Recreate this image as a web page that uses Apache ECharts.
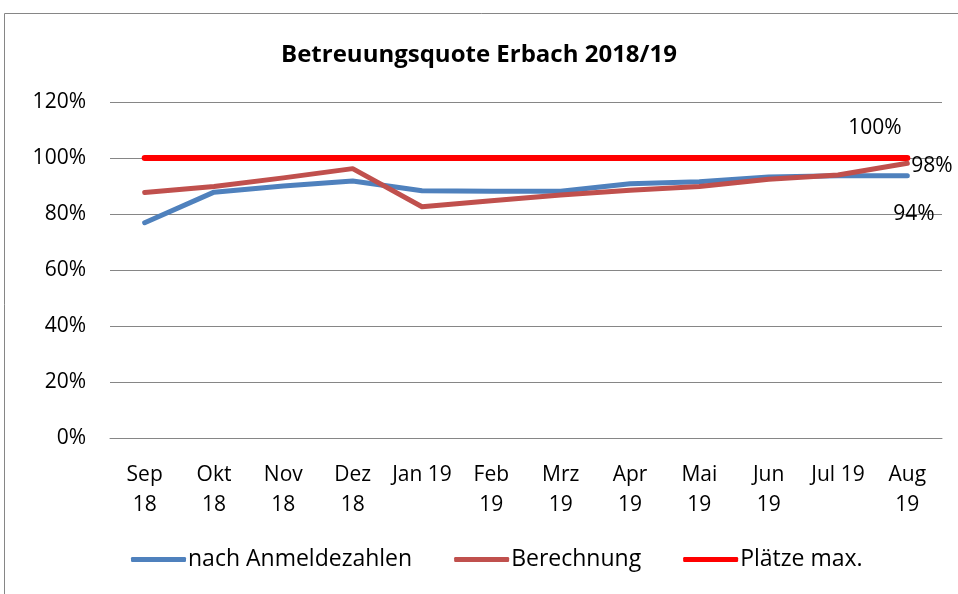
<!DOCTYPE html>
<html>
<head>
<meta charset="utf-8">
<script src="https://cdn.jsdelivr.net/npm/echarts@6/dist/echarts.min.js"></script>
<style>
  html, body { margin: 0; padding: 0; background: #fff; }
  #chart { width: 958px; height: 594px; }
</style>
</head>
<body>
<div id="chart"></div>
<script>
var categories = ['Sep\n18', 'Okt\n18', 'Nov\n18', 'Dez\n18', 'Jan 19', 'Feb\n19', 'Mrz\n19', 'Apr\n19', 'Mai\n19', 'Jun\n19', 'Jul 19', 'Aug\n19']
var anmeldezahlen = [76.9, 87.8, 90.0, 91.8, 88.3, 88.1, 88.1, 90.8, 91.5, 93.2, 93.7, 93.7]
var berechnung = [87.7, 89.8, 92.9, 96.2, 82.6, 84.7, 86.8, 88.5, 89.8, 92.4, 93.9, 98.1]
var plaetzeMax = [100, 100, 100, 100, 100, 100, 100, 100, 100, 100, 100, 100]
var yTicks = { min: 0, max: 120, interval: 20 }

var font = "'Open Sans', 'Noto Sans', sans-serif"

// Beschriftung nur am letzten Punkt
function endLbl(offset) {
  return {
    show: true,
    color: '#000',
    fontFamily: font,
    fontSize: 21,
    distance: 0,
    align: 'left',
    verticalAlign: 'middle',
    offset: offset,
    formatter: function(p) { return Math.round(p.value) + '%' }
  }
}

var chart = echarts.init(document.getElementById('chart'))
chart.setOption({
  animation: false,
  backgroundColor: '#fff',
  graphic: [{
    type: 'rect',
    shape: { x: 4.5, y: 13.5, width: 1000, height: 1000 },
    style: { fill: 'none', stroke: '#868686', lineWidth: 1 }
  }],
  title: {
    text: 'Betreuungsquote Erbach 2018/19',
    left: 'center',
    top: 38,
    textStyle: { fontFamily: font, fontSize: 24, fontWeight: 'bold', color: '#000' }
  },
  legend: {
    bottom: 18,
    left: 126,
    itemWidth: 55,
    itemHeight: 5,
    itemGap: 42,
    icon: 'roundRect',
    textStyle: { fontFamily: font, fontSize: 23, color: '#000', padding: [0, 0, 0, -3] },
    data: ['nach Anmeldezahlen', 'Berechnung', 'Plätze max.']
  },
  grid: { left: 110, right: 16, top: 102, bottom: 156 },
  xAxis: {
    type: 'category',
    data: categories,
    axisLine: { lineStyle: { color: '#868686', width: 1 } },
    axisTick: { show: false },
    axisLabel: { interval: 0, color: '#000', fontFamily: font, fontSize: 21, lineHeight: 30, margin: 22 }
  },
  yAxis: {
    type: 'value',
    min: yTicks.min,
    max: yTicks.max,
    interval: yTicks.interval,
    axisLine: { show: false },
    axisTick: { show: false },
    splitLine: { lineStyle: { color: '#868686', width: 1 } },
    axisLabel: { formatter: '{value}%', color: '#000', fontFamily: font, fontSize: 21, margin: 24 }
  },
  series: [
    {
      name: 'nach Anmeldezahlen',
      type: 'line',
      data: anmeldezahlen,
      symbol: 'none',
      color: '#4F81BD',
      lineStyle: { width: 5, cap: 'round', join: 'round' },
      endLabel: endLbl([-14, 38]),
      z: 3
    },
    {
      name: 'Berechnung',
      type: 'line',
      data: berechnung,
      symbol: 'none',
      color: '#C0504D',
      lineStyle: { width: 5, cap: 'round', join: 'round' },
      endLabel: endLbl([4, 3]),
      z: 4
    },
    {
      name: 'Plätze max.',
      type: 'line',
      data: plaetzeMax,
      symbol: 'none',
      color: '#FF0000',
      lineStyle: { width: 6, cap: 'round', join: 'round' },
      endLabel: endLbl([-59, -30]),
      z: 2
    }
  ]
})
</script>
</body>
</html>
